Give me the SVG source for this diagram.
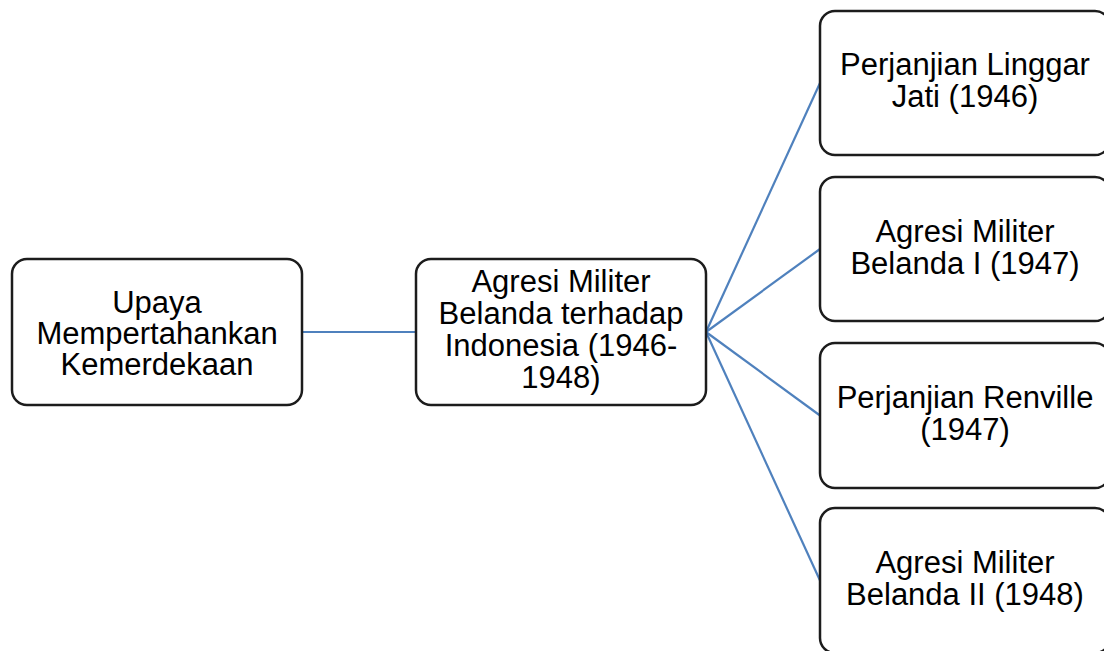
<svg xmlns="http://www.w3.org/2000/svg" width="1104" height="651" viewBox="0 0 1104 651">
  <style>
    .box { fill: #ffffff; stroke: #1c1c1c; stroke-width: 2.5; }
    .lbl { font-family: "Liberation Sans", Arial, sans-serif; font-size: 31px; fill: #000000; text-anchor: middle; }
    .link { stroke: #4f81bd; stroke-width: 2.2; fill: none; }
  </style>
  <rect width="1104" height="651" fill="#ffffff"/>

  <!-- connectors -->
  <g id="connectors">
    <line class="link" x1="302" y1="332" x2="416" y2="332"/>
    <line class="link" x1="706" y1="332" x2="820" y2="83"/>
    <line class="link" x1="706" y1="332" x2="820" y2="249"/>
    <line class="link" x1="706" y1="332" x2="820" y2="415.5"/>
    <line class="link" x1="706" y1="332" x2="820" y2="580.5"/>
  </g>

  <g id="root">
    <rect class="box" x="12" y="259" width="290" height="146" rx="15"/>
    <text class="lbl" x="157" y="313">Upaya</text>
    <text class="lbl" x="157" y="344">Mempertahankan</text>
    <text class="lbl" x="157" y="375">Kemerdekaan</text>
  </g>

  <g id="agresi-militer">
    <rect class="box" x="416" y="259" width="290" height="146" rx="15"/>
    <text class="lbl" x="561" y="292">Agresi Militer</text>
    <text class="lbl" x="561" y="324">Belanda terhadap</text>
    <text class="lbl" x="561" y="356">Indonesia (1946-</text>
    <text class="lbl" x="561" y="388">1948)</text>
  </g>

  <g id="linggarjati">
    <rect class="box" x="820" y="11" width="290" height="144" rx="15"/>
    <text class="lbl" x="965" y="75">Perjanjian Linggar</text>
    <text class="lbl" x="965" y="107">Jati (1946)</text>
  </g>

  <g id="agresi-1">
    <rect class="box" x="820" y="177" width="290" height="144" rx="15"/>
    <text class="lbl" x="965" y="242">Agresi Militer</text>
    <text class="lbl" x="965" y="274">Belanda I (1947)</text>
  </g>

  <g id="renville">
    <rect class="box" x="820" y="343" width="290" height="145" rx="15"/>
    <text class="lbl" x="965" y="408">Perjanjian Renville</text>
    <text class="lbl" x="965" y="440">(1947)</text>
  </g>

  <g id="agresi-2">
    <rect class="box" x="820" y="508" width="290" height="145" rx="15"/>
    <text class="lbl" x="965" y="573">Agresi Militer</text>
    <text class="lbl" x="965" y="605">Belanda II (1948)</text>
  </g>
</svg>
